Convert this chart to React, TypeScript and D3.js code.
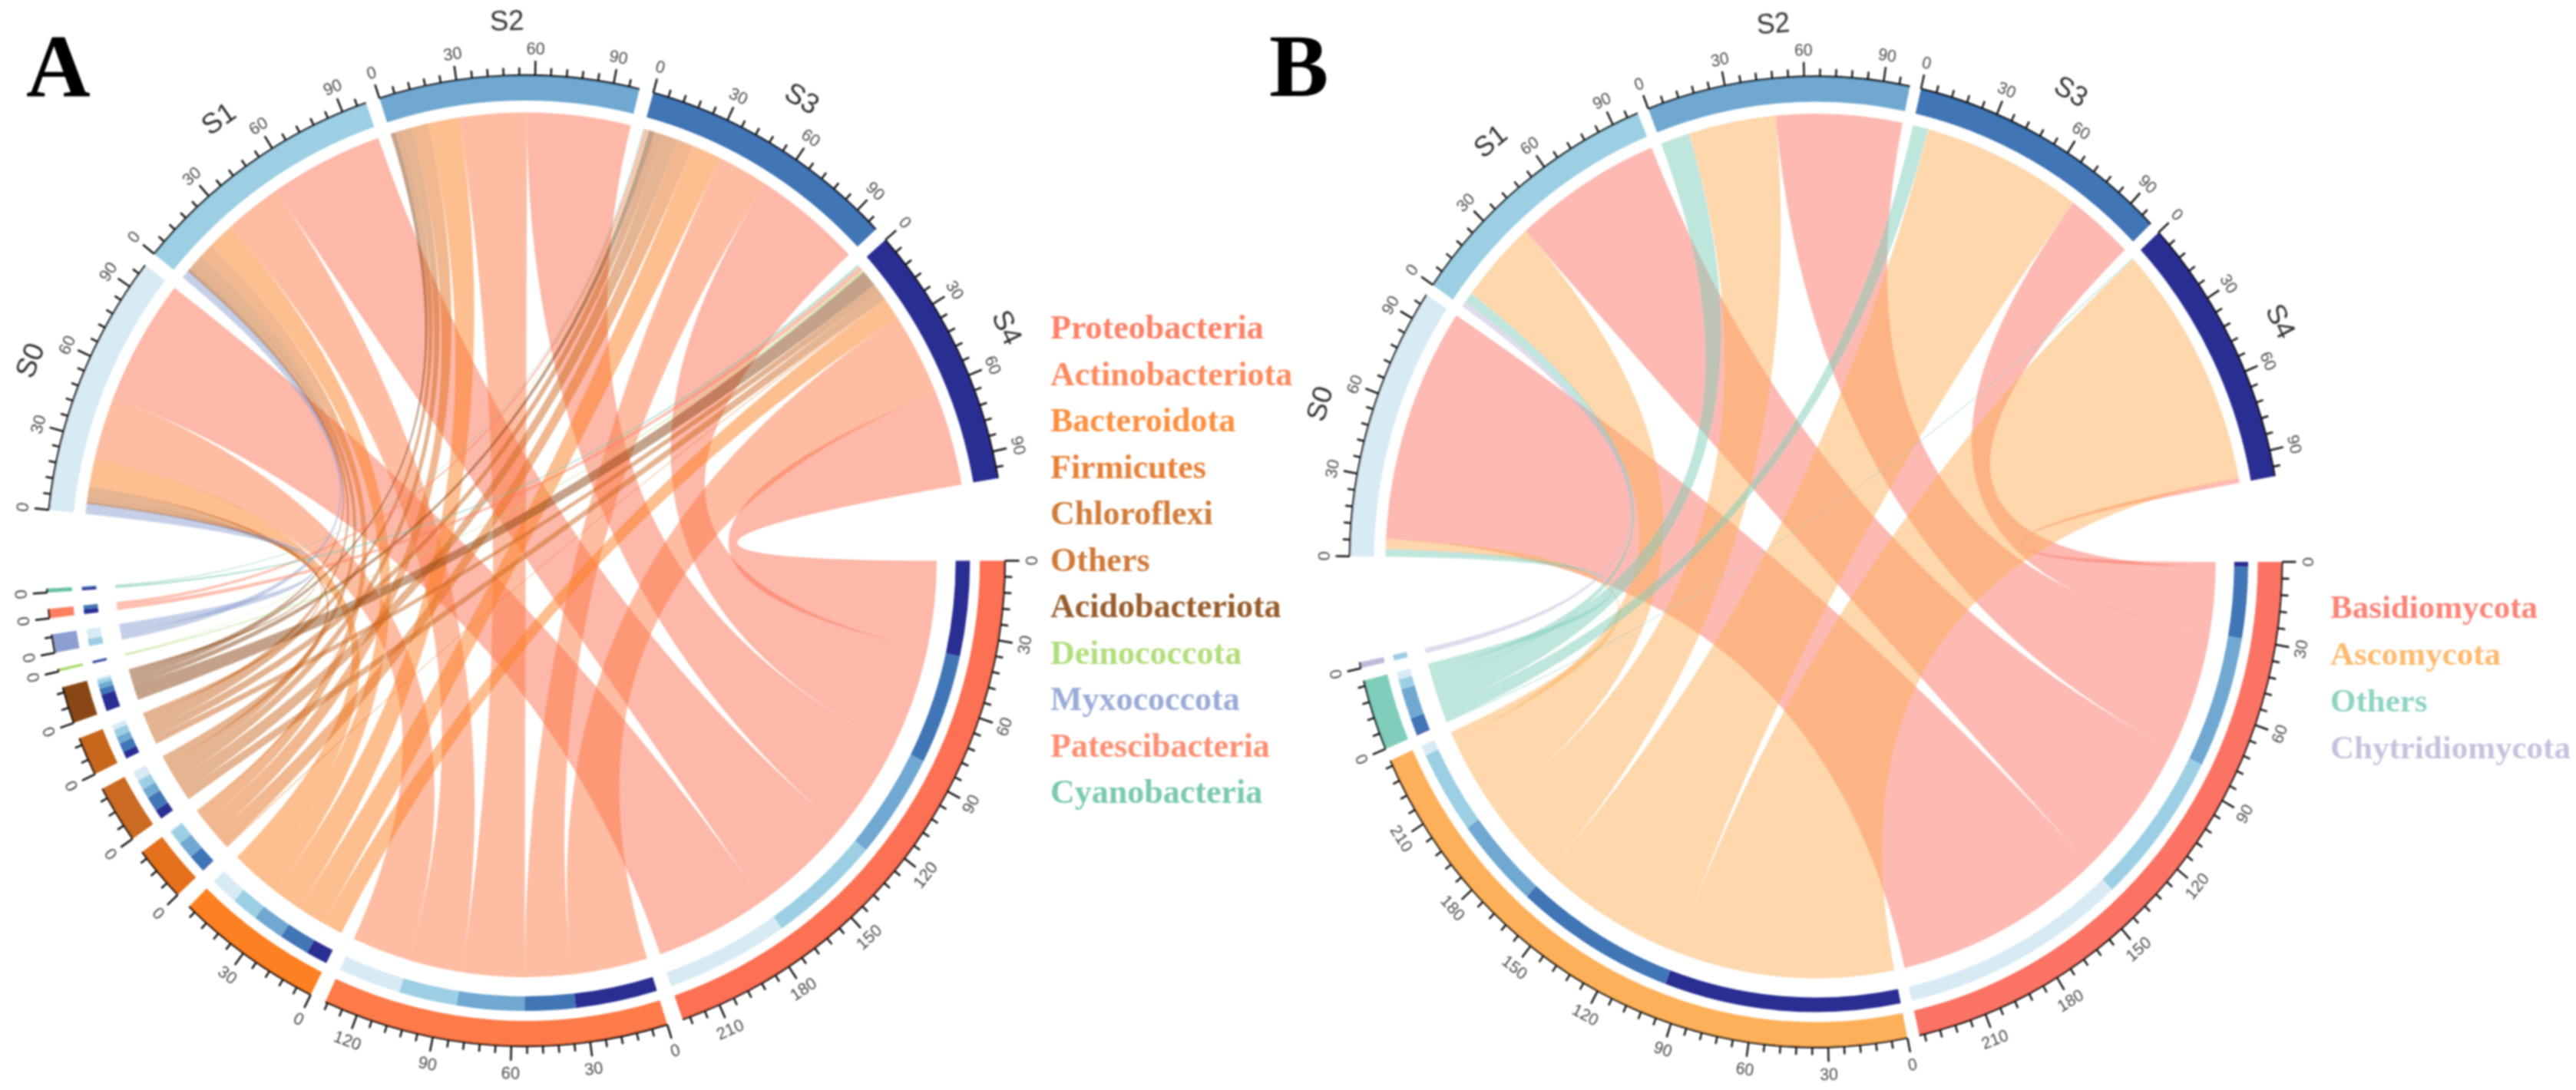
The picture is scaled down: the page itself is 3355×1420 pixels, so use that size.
import React from "react";
import * as d3 from "d3";

const samples = ["S0", "S1", "S2", "S3", "S4"];
const sampleColors = ["#D8EAF4", "#9CCFE4", "#6FA8D2", "#3F74B6", "#2B2F93"];

const phylaA = ["Proteobacteria", "Actinobacteriota", "Bacteroidota", "Firmicutes", "Chloroflexi", "Others", "Acidobacteriota", "Deinococcota", "Myxococcota", "Patescibacteria", "Cyanobacteria"];
const colorsA = ["#FC6F52", "#FD7A48", "#FD8022", "#E46F1E", "#CB6A20", "#C8661E", "#8A4712", "#A6D96A", "#8C9FD0", "#FC8060", "#66C2A5"];
const proteobacteria = [51, 47, 43, 45, 39];
const actinobacteriota = [26, 24, 28, 21, 34];
const bacteroidota = [11.5, 11, 13, 12.5, 9];
const firmicutes = [0.5, 6, 7, 7, 0.5];
const chloroflexi = [4, 4, 4, 6, 4];
const othersA = [2, 3, 3, 3.7, 3];
const acidobacteriota = [1, 1.5, 2, 2.5, 7];
const deinococcota = [0, 0, 0, 0.3, 0.7];
const myxococcota = [4, 3, 0, 0, 0];
const patescibacteria = [0, 0, 0, 1.5, 2];
const cyanobacteria = [0, 0, 0, 0.5, 1];
const matrixA = [proteobacteria, actinobacteriota, bacteroidota, firmicutes, chloroflexi, othersA, acidobacteriota, deinococcota, myxococcota, patescibacteria, cyanobacteria];

const phylaB = ["Basidiomycota", "Ascomycota", "Others", "Chytridiomycota"];
const colorsB = ["#FB7365", "#FDB05A", "#80CDBB", "#BEBADA"];
const basidiomycota = [93, 61, 52, 28, 2];
const ascomycota = [4, 33, 36, 66, 97];
const othersB = [3, 4, 12, 6.5, 0.5];
const chytridiomycota = [0, 2.2, 0, 0, 0];
const matrixB = [basidiomycota, ascomycota, othersB, chytridiomycota];

const R = 632.5;
const ringW = 33;
const innerOuter = 586.5;
const innerInner = 567.5;
const phylumLinkR = 542.5;
const sampleLinkR = 584;
const rad = (deg: number) => (deg * Math.PI) / 180;

function Panel({ cx, cy, sx, matrix, phyla, colors, k, gap, sampleGap, westGap }: any) {
  const rowTotals: number[] = matrix.map((r: number[]) => d3.sum(r));
  const colTotals: number[] = samples.map((_, j) => d3.sum(matrix, (r: number[]) => r[j]));
  const sectors: any[] = [];
  let a = 0;
  rowTotals.forEach((t, i) => {
    sectors.push({ name: phyla[i], total: t, color: colors[i], scale: d3.scaleLinear().domain([0, t]).range([a, a + t * k]) });
    a += t * k + gap;
  });
  a += westGap - gap;
  colTotals.forEach((t, j) => {
    sectors.push({ name: samples[j], total: t, color: sampleColors[j], sample: true, scale: d3.scaleLinear().domain([0, t]).range([a, a + t * k]) });
    a += t * k + sampleGap;
  });
  const n = phyla.length;
  const ringArc = d3.arc();
  const ribbon = (d3.ribbon() as any).sourceRadius((d: any) => d.r).targetRadius((d: any) => d.r);
  const ribbons: any[] = [];
  const inner: any[] = [];
  matrix.forEach((row: number[], i: number) => {
    let pos = 0;
    for (let j = samples.length - 1; j >= 0; j--) {
      const v = row[j];
      if (v <= 0) continue;
      const s = sectors[i].scale;
      const sa = rad(s(pos) + 90);
      const ea = rad(s(pos + v) + 90);
      let off = 0;
      for (let q = n - 1; q > i; q--) off += matrix[q][j];
      const ts = sectors[n + j].scale;
      const ta = rad(ts(off) + 90);
      const tb = rad(ts(off + v) + 90);
      ribbons.push({
        d: ribbon({ source: { startAngle: sa, endAngle: ea, r: phylumLinkR }, target: { startAngle: ta, endAngle: tb, r: sampleLinkR } }),
        color: colors[i],
      });
      inner.push({ d: ringArc({ innerRadius: innerInner, outerRadius: innerOuter, startAngle: sa, endAngle: ea } as any), color: sampleColors[j] });
      pos += v;
    }
  });
  const textRot = (deg: number) => {
    const t = ((deg % 360) + 360) % 360;
    return t < 180 ? t - 90 : t + 90;
  };
  const at = (deg: number, r: number) => [r * Math.cos(rad(deg)), r * Math.sin(rad(deg))];
  return (
    <g transform={`translate(${cx},${cy}) scale(${sx},1)`}>
      {ribbons.map((r, i) => (
        <path key={i} d={r.d} fill={r.color} fillOpacity={0.5} />
      ))}
      {inner.map((r, i) => (
        <path key={i} d={r.d} fill={r.color} />
      ))}
      {sectors.map((s, i) => {
        const [a0, a1] = s.scale.range();
        const ticks = d3.range(0, s.total, 6);
        const mid = (a0 + a1) / 2;
        const [lx, ly] = at(mid, R + 72);
        return (
          <g key={i}>
            <path d={ringArc({ innerRadius: R - ringW, outerRadius: R, startAngle: rad(a0 + 90), endAngle: rad(a1 + 90) } as any) as string} fill={s.color} />
            <path d={d3.arc()({ innerRadius: R - 1.2, outerRadius: R + 1.2, startAngle: rad(a0 + 90), endAngle: rad(a1 + 90) } as any) as string} fill="#111" />
            {ticks.map((t: number) => {
              const major = t % 30 === 0;
              const deg = s.scale(t);
              const [x1, y1] = at(deg, R);
              const [x2, y2] = at(deg, R + (major ? 19 : 10));
              const [tx, ty] = at(deg, R + 35);
              return (
                <g key={t}>
                  <line x1={x1} y1={y1} x2={x2} y2={y2} stroke="#111" strokeWidth={2.5} />
                  {major && (
                    <text x={tx} y={ty} transform={`rotate(${textRot(deg)},${tx},${ty})`} textAnchor="middle" dominantBaseline="central" fontFamily="Liberation Sans" fontSize={22} fill="#4a4a4a">
                      {t}
                    </text>
                  )}
                </g>
              );
            })}
            {s.sample && (
              <text x={lx} y={ly} transform={`rotate(${textRot(mid)},${lx},${ly})`} textAnchor="middle" dominantBaseline="central" fontFamily="Liberation Sans" fontSize={37} fill="#333">
                {s.name}
              </text>
            )}
          </g>
        );
      })}
    </g>
  );
}

function Legend({ x, y0, step, size, names, colors }: any) {
  return (
    <g>
      {names.map((name: string, i: number) => (
        <text key={name} x={x} y={y0 + i * step} fontFamily="Liberation Serif" fontWeight="bold" fontSize={size} fill={colors[i]} fillOpacity={0.88}>
          {name}
        </text>
      ))}
    </g>
  );
}

export default function App() {
  return (
    <svg width={3355} height={1420} style={{ position: "absolute", left: 0, top: 0, background: "#fff" }}>
      <defs>
        <filter id="soft" x="0" y="0" width="100%" height="100%">
          <feGaussianBlur stdDeviation="1" />
        </filter>
      </defs>
      <g filter="url(#soft)">
        <Panel cx={684.5} cy={730.5} sx={0.987} matrix={matrixA} phyla={phylaA} colors={colorsA} k={0.315} gap={1.93} sampleGap={1.7} westGap={9.3} />
        <Panel cx={2365} cy={732} sx={0.96} matrix={matrixB} phyla={phylaB} colors={colorsB} k={0.327} gap={1.5} sampleGap={1.4} westGap={12.6} />
        <Legend x={1368} y0={441} step={60.5} size={44} names={phylaA} colors={colorsA} />
        <Legend x={3035} y0={805} step={61} size={43} names={phylaB} colors={colorsB} />
        <text x={34} y={125} fontFamily="Liberation Serif" fontWeight="bold" fontSize={116} fill="#000">A</text>
        <text x={1653} y={125} fontFamily="Liberation Serif" fontWeight="bold" fontSize={116} fill="#000">B</text>
      </g>
    </svg>
  );
}
